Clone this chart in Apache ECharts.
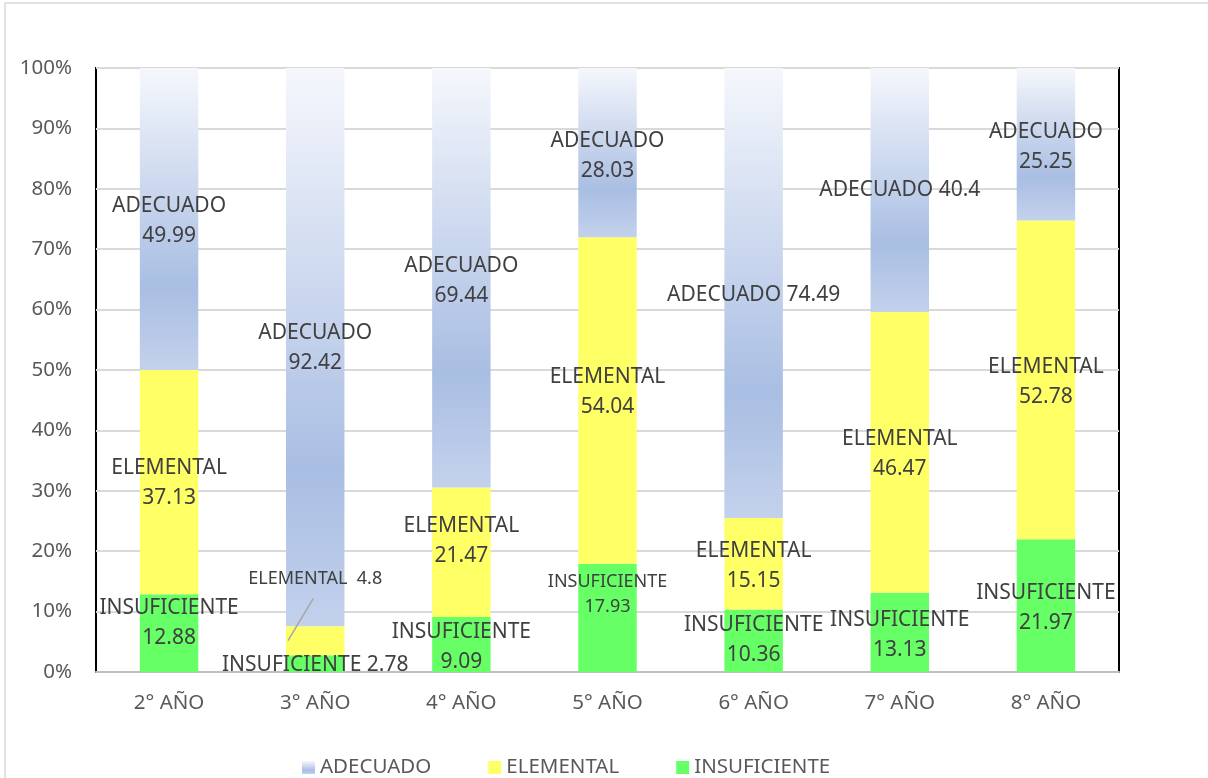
<!DOCTYPE html>
<html>
<head>
<meta charset="utf-8">
<script src="https://cdn.jsdelivr.net/npm/echarts@6/dist/echarts.min.js"></script>
<style>
  html, body { margin: 0; padding: 0; background: #ffffff; }
  #chart { width: 1208px; height: 778px; }
</style>
</head>
<body>
<div id="chart"></div>
<script>
// Niveles de logro por año (porcentajes)
const categories = ['2° AÑO', '3° AÑO', '4° AÑO', '5° AÑO', '6° AÑO', '7° AÑO', '8° AÑO'];
const insuficiente = [12.88, 2.78, 9.09, 17.93, 10.36, 13.13, 21.97];
const elemental = [37.13, 4.8, 21.47, 54.04, 15.15, 46.47, 52.78];
const adecuado = [49.99, 92.42, 69.44, 28.03, 74.49, 40.4, 25.25];
const yTicks = [0, 10, 20, 30, 40, 50, 60, 70, 80, 90, 100];

// Ajustes manuales de las etiquetas (desplazamiento vertical, una línea o dos, tamaño)
const labelDy = {
  INSUFICIENTE: [-10, 1, 2, -23, -1, 3, 2],
  ELEMENTAL: [1, -62, -11, -8, 2, 2, 2],
  ADECUADO: [2, 1, 3, 3, 2, 0, 3]
};
const singleLine = {
  INSUFICIENTE: [false, true, false, false, false, false, false],
  ELEMENTAL: [false, true, false, false, false, false, false],
  ADECUADO: [false, false, false, false, true, true, false]
};
const smallLabel = {
  INSUFICIENTE: [false, false, false, true, false, false, false],
  ELEMENTAL: [false, true, false, false, false, false, false],
  ADECUADO: [false, false, false, false, false, false, false]
};

const FONT = '"Noto Sans", "Open Sans", sans-serif';
const LABEL_COLOR = '#404040';
const AXIS_TEXT = '#595959';
const BAR_RATIO = 0.4;

const adecuadoFill = {
  type: 'linear', x: 0, y: 0, x2: 0, y2: 1,
  colorStops: [
    { offset: 0, color: '#f5f7fc' },
    { offset: 0.72, color: '#a9bee3' },
    { offset: 1, color: '#c3d1ec' }
  ]
};

function buildData(name, values) {
  return values.map(function (v, i) {
    const small = smallLabel[name][i];
    const sep = singleLine[name][i] ? (name === 'ELEMENTAL' ? '  ' : ' ') : '\n';
    return {
      value: v,
      label: {
        offset: [0, labelDy[name][i]],
        fontSize: small ? 18 : 21,
        lineHeight: small ? 25 : 30,
        formatter: name + sep + v
      }
    };
  });
}

function series(name, values, color) {
  return {
    name: name,
    type: 'bar',
    stack: 'total',
    barWidth: (BAR_RATIO * 100) + '%',
    itemStyle: { color: color },
    label: {
      show: true,
      position: 'inside',
      color: LABEL_COLOR,
      fontFamily: FONT,
      fontSize: 21,
      lineHeight: 30
    },
    data: buildData(name, values)
  };
}

const frame = {
  id: 'frame',
  type: 'rect',
  shape: { x: 5, y: 3, width: 1240, height: 800 },
  style: { fill: 'none', stroke: '#d9d9d9', lineWidth: 1.5 },
  silent: true
};

const chart = echarts.init(document.getElementById('chart'), null, { renderer: 'canvas' });

chart.setOption({
  animation: false,
  backgroundColor: '#ffffff',
  textStyle: { fontFamily: FONT },
  graphic: [frame],
  grid: {
    left: 96, right: 89, top: 68, bottom: 106,
    show: true, borderColor: '#000000', borderWidth: 2,
    containLabel: false
  },
  legend: {
    data: ['ADECUADO', 'ELEMENTAL', 'INSUFICIENTE'],
    left: 297, top: 752,
    itemWidth: 13, itemHeight: 13, itemGap: 57,
    icon: 'rect',
    textStyle: { color: AXIS_TEXT, fontSize: 20.5, fontFamily: FONT }
  },
  xAxis: {
    type: 'category',
    data: categories,
    axisLine: { show: true, lineStyle: { color: '#bfbfbf', width: 2 } },
    axisTick: { show: false },
    axisLabel: { color: AXIS_TEXT, fontSize: 20.5, fontFamily: FONT, margin: 21 }
  },
  yAxis: {
    type: 'value',
    min: yTicks[0], max: yTicks[yTicks.length - 1], interval: yTicks[1] - yTicks[0],
    axisLine: { show: false },
    axisTick: { show: false },
    splitLine: { lineStyle: { color: '#d9d9d9', width: 2 } },
    axisLabel: {
      color: AXIS_TEXT, fontSize: 20.5, fontFamily: FONT, margin: 24,
      formatter: '{value}%'
    }
  },
  series: [
    series('INSUFICIENTE', insuficiente, '#66ff66'),
    series('ELEMENTAL', elemental, '#ffff66'),
    series('ADECUADO', adecuado, adecuadoFill)
  ]
});

// Línea guía desde el segmento pequeño de ELEMENTAL (3° AÑO) hasta su etiqueta desplazada
(function () {
  const i = 1;
  const ref = { xAxisIndex: 0, yAxisIndex: 0 };
  const mid = chart.convertToPixel(ref, [i, insuficiente[i] + elemental[i] / 2]);
  const next = chart.convertToPixel(ref, [i + 1, 0]);
  const halfBar = (next[0] - mid[0]) * BAR_RATIO / 2;
  const labelY = mid[1] + labelDy.ELEMENTAL[i];
  chart.setOption({
    graphic: [frame, {
      id: 'leader',
      type: 'line',
      shape: { x1: mid[0] - halfBar + 2, y1: mid[1], x2: mid[0] - 2, y2: labelY + 20 },
      style: { stroke: '#a6a6a6', lineWidth: 1.5 },
      z: 10,
      silent: true
    }]
  });
})();
</script>
</body>
</html>
